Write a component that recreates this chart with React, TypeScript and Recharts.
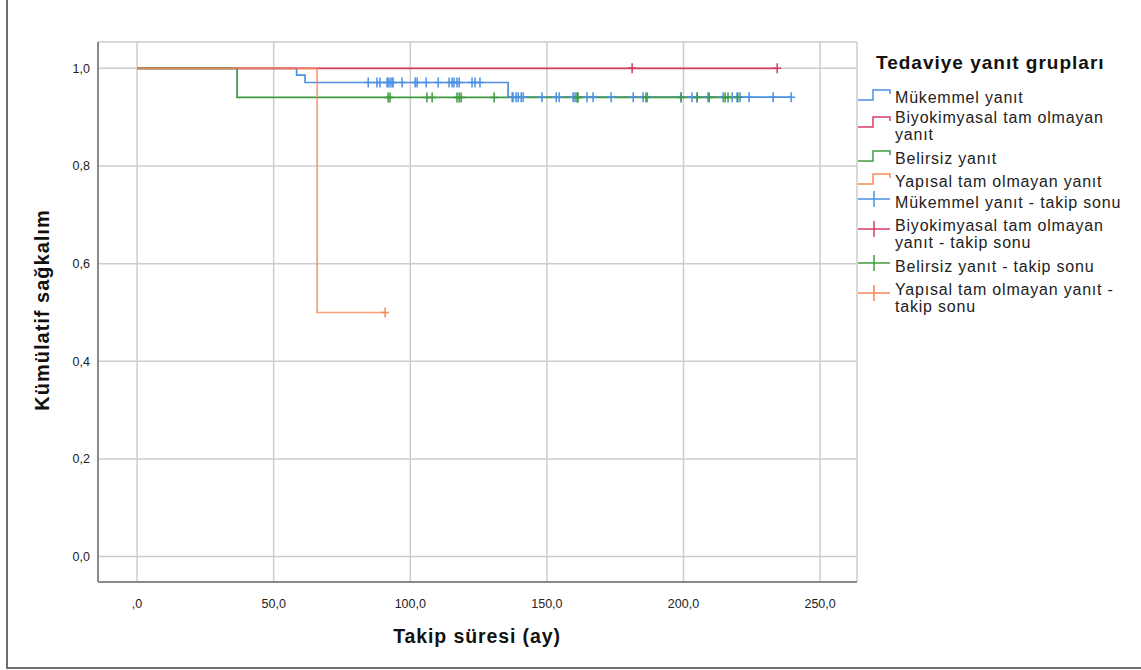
import { CartesianGrid, ComposedChart, Line, Scatter, XAxis, YAxis } from "recharts";

const X_TICKS = [0, 50, 100, 150, 200, 250];
const Y_TICKS = [0, 0.2, 0.4, 0.6, 0.8, 1.0];

// step curves (time in months, cumulative survival)
const mukemmelTime = [0, 58.4, 61.5, 135.8, 239.4];
const mukemmelSurv = [1, 0.986, 0.971, 0.941, 0.941];
const biyoTime = [0, 234.3];
const biyoSurv = [1, 1];
const belirsizTime = [0, 36.6, 219.9];
const belirsizSurv = [1, 0.9405, 0.9405];
const yapisalTime = [0, 65.9, 90.8];
const yapisalSurv = [1, 0.5, 0.5];

// censored cases (takip sonu)
const mukemmelCensor = [
  84.6, 87.8, 88.9, 91.5, 91.9, 92.6, 93.3, 93.7, 97.0, 101.8, 102.5, 105.8, 110.2,
  114.2, 115.3, 116.0, 117.1, 117.9, 122.6, 123.7, 125.5,
  137.3, 137.6, 138.7, 139.5, 140.6, 141.3, 148.2, 153.4, 154.5, 159.6, 160.3, 161.1,
  164.7, 166.9, 173.5, 181.6, 185.2, 186.7, 199.1, 203.1, 205.0, 209.0, 214.5, 217.8,
  219.6, 220.7, 224.0, 232.8, 239.4,
];
const biyoCensor = [181.2, 234.3];
const belirsizCensor = [
  91.9, 92.6, 106.1, 108.0, 117.1, 117.9, 118.6, 130.7, 161.1, 161.4, 186.3, 199.1,
  205.0, 209.4, 215.2, 216.3, 219.9,
];
const yapisalCensor = [90.8];

const BLUE = "#4b90e2";
const RED = "#d53c62";
const GREEN = "#3f9a3f";
const ORANGE = "#fa8656";

const FONT = "'Liberation Sans', Arial, sans-serif";

const toPoints = (t: number[], s: number[]) => t.map((x, i) => ({ x, y: s[i] }));

// survival value of a step curve at time x (for placing the censor marks)
const survAt = (t: number[], s: number[], x: number) => {
  let v = s[0];
  for (let i = 0; i < t.length; i++) if (t[i] <= x) v = s[i];
  return v;
};
const censorPoints = (c: number[], t: number[], s: number[]) =>
  c.map((x) => ({ x, y: survAt(t, s, x) }));

const series = [
  { name: "Mükemmel yanıt", color: BLUE, opacity: 1, line: toPoints(mukemmelTime, mukemmelSurv), cens: censorPoints(mukemmelCensor, mukemmelTime, mukemmelSurv) },
  { name: "Biyokimyasal tam olmayan yanıt", color: RED, opacity: 1, line: toPoints(biyoTime, biyoSurv), cens: censorPoints(biyoCensor, biyoTime, biyoSurv) },
  { name: "Belirsiz yanıt", color: GREEN, opacity: 1, line: toPoints(belirsizTime, belirsizSurv), cens: censorPoints(belirsizCensor, belirsizTime, belirsizSurv) },
  { name: "Yapısal tam olmayan yanıt", color: ORANGE, opacity: 0.8, line: toPoints(yapisalTime, yapisalSurv), cens: censorPoints(yapisalCensor, yapisalTime, yapisalSurv) },
];

// legend rows: text lines, first line centre y, icon kind
const legendRows = [
  { lines: ["Mükemmel yanıt"], y: 97, color: BLUE, kind: "step" },
  { lines: ["Biyokimyasal tam olmayan", "yanıt"], y: 117, color: RED, kind: "step" },
  { lines: ["Belirsiz yanıt"], y: 158, color: GREEN, kind: "step" },
  { lines: ["Yapısal tam olmayan yanıt"], y: 181, color: ORANGE, kind: "step" },
  { lines: ["Mükemmel yanıt - takip sonu"], y: 202, color: BLUE, kind: "cross" },
  { lines: ["Biyokimyasal tam olmayan", "yanıt - takip sonu"], y: 225, color: RED, kind: "cross" },
  { lines: ["Belirsiz yanıt - takip sonu"], y: 266, color: GREEN, kind: "cross" },
  { lines: ["Yapısal tam olmayan yanıt -", "takip sonu"], y: 289, color: ORANGE, kind: "cross" },
];

const fmt = (v: number) => (v === 0 ? ",0" : v.toFixed(1).replace(".", ","));
const fmtY = (v: number) => v.toFixed(1).replace(".", ",");

const makeCross = (color: string) => (p: any) => {
  const { cx, cy } = p;
  if (cx == null || cy == null) return <g />;
  return (
    <path
      d={`M${cx - 4},${cy} H${cx + 4} M${cx},${cy - 5} V${cy + 5}`}
      stroke={color}
      strokeWidth={1.5}
      fill="none"
    />
  );
};

function Legend() {
  return (
    <svg width={1141} height={670} style={{ position: "absolute", left: 0, top: 0, pointerEvents: "none" }}>
      <text x={876} y={62} dominantBaseline="central" fontFamily={FONT} fontWeight="bold" fontSize={19} letterSpacing={1} fill="#111">
        Tedaviye yanıt grupları
      </text>
      {legendRows.map((r, i) => {
        const a = r.lines.length > 1 ? r.y + 7 : r.y;
        const icon =
          r.kind === "step"
            ? `M858,${a + 3} H873 V${a - 7} H890 V${a - 3}`
            : `M858,${a - 3} H890 M874,${a - 11} V${a + 5}`;
        return (
          <g key={i}>
            <path d={icon} stroke={r.color} strokeWidth={1.5} fill="none" />
            {r.lines.map((l, j) => (
              <text key={j} x={895} y={r.y + j * 17} dominantBaseline="central" fontFamily={FONT} fontSize={16} letterSpacing={0.8} fill="#222">
                {l}
              </text>
            ))}
          </g>
        );
      })}
    </svg>
  );
}

export default function App() {
  return (
    <div style={{ position: "absolute", left: 0, top: 0, width: 1141, height: 670, background: "#fff", overflow: "hidden" }}>
      <div style={{ position: "absolute", left: 6, top: -4, width: 1140, height: 671, borderLeft: "2px solid #6f6f6f", borderBottom: "2px solid #6f6f6f" }} />
      <ComposedChart width={1141} height={670} margin={{ top: 42, right: 284, bottom: 48, left: 38 }}>
        <CartesianGrid stroke="#cdcdcd" strokeWidth={1.5} />
        <XAxis
          dataKey="x"
          type="number"
          domain={[-14.3, 263.5]}
          ticks={X_TICKS}
          tickFormatter={fmt}
          tickLine={false}
          tickMargin={11}
          height={40}
          axisLine={{ stroke: "#8a8a8a", strokeWidth: 2 }}
          tick={{ fontSize: 12.5, fill: "#222", fontFamily: FONT }}
          allowDataOverflow
          label={{
            content: () => (
              <text x={477} y={636} textAnchor="middle" dominantBaseline="central" fontFamily={FONT} fontWeight="bold" fontSize={19.5} letterSpacing={0.9} fill="#111">
                Takip süresi (ay)
              </text>
            ),
          }}
        />
        <YAxis
          type="number"
          domain={[-0.052, 1.054]}
          ticks={Y_TICKS}
          tickFormatter={fmtY}
          tickLine={false}
          width={60}
          axisLine={{ stroke: "#8a8a8a", strokeWidth: 2 }}
          tick={{ fontSize: 12.5, fill: "#222", fontFamily: FONT }}
          allowDataOverflow
          label={{
            content: () => (
              <text x={42} y={310} transform="rotate(-90 42 310)" textAnchor="middle" dominantBaseline="central" fontFamily={FONT} fontWeight="bold" fontSize={20} letterSpacing={1} fill="#111">
                Kümülatif sağkalım
              </text>
            ),
          }}
        />
        {series.map((s) => (
          <Line
            key={s.name}
            data={s.line}
            dataKey="y"
            type="stepAfter"
            stroke={s.color}
            strokeOpacity={s.opacity}
            strokeWidth={1.7}
            dot={false}
            activeDot={false}
            isAnimationActive={false}
          />
        ))}
        {series.map((s) => (
          <Scatter
            key={s.name + "-c"}
            data={s.cens}
            dataKey="y"
            fill={s.color}
            shape={makeCross(s.color)}
            isAnimationActive={false}
          />
        ))}
      </ComposedChart>
      <Legend />
    </div>
  );
}
